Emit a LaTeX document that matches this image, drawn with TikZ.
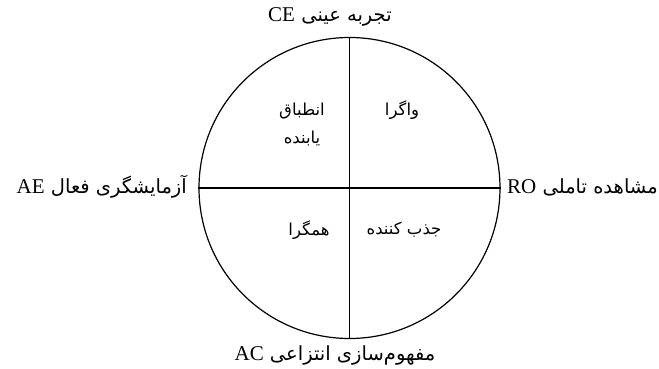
\documentclass[tikz,border=0pt]{standalone}
\usepackage{fontspec}
\setmainfont{Liberation Serif}
\newfontfamily\farsi[Script=Arabic]{DejaVu Sans}
\TeXXeTstate=1
\usetikzlibrary{positioning}

\begin{document}
\begin{tikzpicture}[x=1pt, y=-1pt,
    axislabel/.style={font=\farsi\fontsize{19.5}{22}\selectfont, inner sep=1pt},
    quadlabel/.style={font=\farsi\fontsize{16.5}{28}\selectfont, align=center, inner sep=1pt}]
    \useasboundingbox (0,0) rectangle (659,369);
    \node[circle, draw, line width=1.2pt, minimum size=301pt, inner sep=0pt] (wheel) at (349.5,188) {};
    \draw[line width=1.2pt] (wheel.west) -- (wheel.east);
    \draw[line width=1.2pt] (wheel.north) -- (wheel.south);
    % the four poles
    \node[axislabel] (ce) at (330,17) {\beginR تجربه عینی \beginL{\rmfamily\fontsize{21}{22}\selectfont CE}\endL\endR};
    \node[axislabel, anchor=east] (ae) at (188,187) {\beginR آزمایشگری فعال \beginL{\rmfamily\fontsize{21}{22}\selectfont AE}\endL\endR};
    \node[axislabel, anchor=west] (ro) at (506,187) {\beginR مشاهده تاملی \beginL{\rmfamily\fontsize{21}{22}\selectfont RO}\endL\endR};
    \node[axislabel] (ac) at (335,355) {\beginR مفهوم‌سازی انتزاعی \beginL{\rmfamily\fontsize{21}{22}\selectfont AC}\endL\endR};
    % the four styles
    \node[quadlabel] (accom) at (302,124) {\beginR انطباق\endR\\\beginR یابنده\endR};
    \node[quadlabel] (diverg) at (402,110) {\beginR واگرا\endR};
    \node[quadlabel] (converg) at (309,230) {\beginR همگرا\endR};
    \node[quadlabel] (assim) at (404,230) {\beginR جذب کننده\endR};
\end{tikzpicture}
\end{document}
